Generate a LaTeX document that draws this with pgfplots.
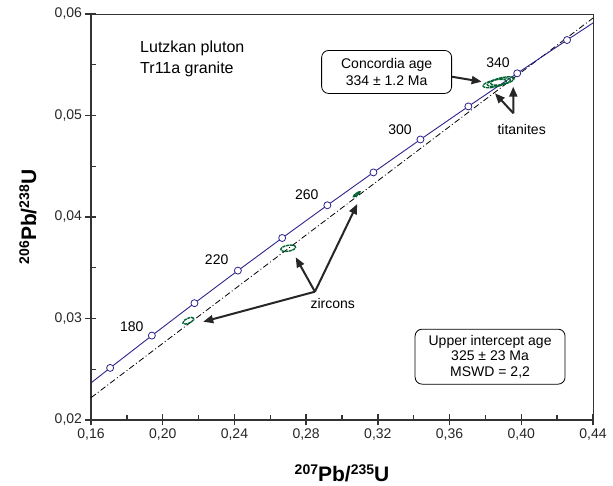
\documentclass[border=0pt]{standalone}
\usepackage{fontspec}
\setmainfont{Liberation Sans}
\usepackage{pgfplots}
\pgfplotsset{compat=1.18}
\usetikzlibrary{arrows.meta}

\definecolor{concblue}{RGB}{45,35,140}
\definecolor{ellgreen}{RGB}{0,100,48}

% error ellipses as plot marks (half axes in pt)
\pgfdeclareplotmark{ellza}{\pgfpathellipse{\pgfpointorigin}{\pgfpoint{5.4pt}{2.5pt}}{\pgfpoint{-1.0pt}{2.2pt}}\pgfusepathqstroke}
\pgfdeclareplotmark{ellzb}{\pgfpathellipse{\pgfpointorigin}{\pgfpoint{7.4pt}{1.3pt}}{\pgfpoint{-0.5pt}{2.9pt}}\pgfusepathqstroke}
\pgfdeclareplotmark{ellzc}{\pgfpathellipse{\pgfpointorigin}{\pgfpoint{3.2pt}{2.4pt}}{\pgfpoint{-0.6pt}{0.8pt}}\pgfusepathqstroke}
\pgfdeclareplotmark{ellt}{\pgfpathellipse{\pgfpointorigin}{\pgfpoint{11.7pt}{2.5pt}}{\pgfpoint{-0.7pt}{3.4pt}}\pgfusepathqstroke}

\begin{document}
\begin{tikzpicture}[font=\fontsize{14}{16}\selectfont,
  arr/.style={line width=2pt, black!85, -{Triangle[length=10pt,width=8pt]}}]
\useasboundingbox (-91pt,-66pt) rectangle (522pt,420pt);
\begin{axis}[
  at={(0,0)}, anchor=south west,
  scale only axis,
  width=502pt, height=406pt,
  xmin=0.16, xmax=0.44,
  ymin=0.02, ymax=0.06,
  axis x line*=bottom,
  axis y line*=left,
  axis line style={line width=1.5pt, black!80, -},
  xtick={0.16,0.20,0.24,0.28,0.32,0.36,0.40,0.44},
  ytick={0.02,0.03,0.04,0.05,0.06},
  minor x tick num=1,
  minor y tick num=1,
  tick align=center,
  major tick length=11pt,
  minor tick length=5pt,
  tick style={line width=1.3pt, black!80},
  minor x tick style={yshift=2.5pt},
  minor y tick style={xshift=2.5pt},
  scaled ticks=false,
  /pgf/number format/.cd, fixed, fixed zerofill, precision=2, use comma, assume math mode=true,
  /pgfplots/.cd,
  ticklabel style={font=\fontsize{14}{16}\selectfont, black!85},
  xlabel={\textbf{\fontsize{14}{16}\selectfont\raisebox{7pt}{207}}\textbf{\fontsize{21}{24}\selectfont Pb/}\textbf{\fontsize{14}{16}\selectfont\raisebox{7pt}{235}}\textbf{\fontsize{21}{24}\selectfont U}},
  ylabel={\textbf{\fontsize{14}{16}\selectfont\raisebox{7pt}{206}}\textbf{\fontsize{21}{24}\selectfont Pb/}\textbf{\fontsize{14}{16}\selectfont\raisebox{7pt}{238}}\textbf{\fontsize{21}{24}\selectfont U}},
  every axis x label/.style={at={(axis description cs:0.5,-0.1305)}, anchor=center},
  every axis y label/.style={at={(axis description cs:-0.1255,0.5)}, anchor=center, rotate=90},
]
% discordia
\addplot[black, line width=0.8pt, dash pattern=on 6pt off 2.5pt on 1pt off 2.5pt]
  coordinates {(0.16,0.0222) (0.44,0.0596)};
% concordia curve
\addplot[concblue, line width=0.9pt, mark=none] coordinates {
  (0.15920,0.023542) (0.17067,0.025131) (0.19395,0.028316) (0.21771,0.031511)
  (0.24193,0.034717) (0.26664,0.037932) (0.29183,0.041157) (0.31753,0.044392)
  (0.34374,0.047637) (0.37047,0.050893) (0.39773,0.054158) (0.42553,0.057434)
  (0.44248,0.059404)};
% age marks every 20 Ma
\addplot[only marks, mark=*, mark size=3.5pt, mark options={fill=white, draw=concblue, line width=0.8pt}] coordinates {
  (0.17067,0.025131) (0.19395,0.028316) (0.21771,0.031511) (0.24193,0.034717)
  (0.26664,0.037932) (0.29183,0.041157) (0.31753,0.044392) (0.34374,0.047637)
  (0.37047,0.050893) (0.39773,0.054158) (0.42553,0.057434)};
% zircons
\addplot[only marks, mark=ellza, mark options={ellgreen, line width=1.4pt, dash pattern=on 3pt off 0.7pt}] coordinates {(0.2143,0.02978)};
\addplot[only marks, mark=ellzb, mark options={ellgreen, line width=1.4pt, dash pattern=on 3pt off 0.7pt}] coordinates {(0.2700,0.03692)};
\addplot[only marks, mark=ellzc, mark options={ellgreen, line width=1.4pt}] coordinates {(0.3082,0.04224)};
% titanites
\addplot[only marks, mark=ellt, mark options={ellgreen, line width=1.3pt, dash pattern=on 3.5pt off 0.7pt}] coordinates {
  (0.3852,0.05315) (0.3875,0.05328) (0.3895,0.05340)};

\node[anchor=center] at (axis cs:0.1827,0.02919) {180};
\node[anchor=center] at (axis cs:0.2301,0.03576) {220};
\node[anchor=center] at (axis cs:0.2803,0.04217) {260};
\node[anchor=center] at (axis cs:0.3324,0.04857) {300};
\node[anchor=center] at (axis cs:0.3870,0.05517) {340};

\node[anchor=west, align=left, font=\fontsize{16}{21}\selectfont] at (axis cs:0.1855,0.05555) {Lutzkan pluton\\Tr11a granite};

\node[draw, rounded corners=7pt, line width=0.8pt, minimum width=130pt, minimum height=43pt, inner sep=0pt, align=center, font=\fontsize{14}{17}\selectfont, fill=white]
  at (axis cs:0.3249,0.05429) {Concordia age\\334 ± 1.2 Ma};
\draw[arr] (axis cs:0.3612,0.05382) -- (axis cs:0.3779,0.05333);

\node at (axis cs:0.4002,0.04864) {titanites};
\draw[arr] (axis cs:0.3956,0.05022) -- (axis cs:0.3955,0.05284);
\draw[arr] (axis cs:0.3956,0.05022) -- (axis cs:0.3853,0.05219);

\node at (axis cs:0.2948,0.03143) {zircons};
\draw[arr] (axis cs:0.2849,0.03264) -- (axis cs:0.3085,0.04128);
\draw[arr] (axis cs:0.2849,0.03264) -- (axis cs:0.2742,0.03603);
\draw[arr] (axis cs:0.2849,0.03264) -- (axis cs:0.2226,0.02968);

\node[draw, rounded corners=7pt, line width=0.8pt, minimum width=150pt, minimum height=55pt, inner sep=0pt, align=center, font=\fontsize{14}{15.5}\selectfont]
  at (axis cs:0.3826,0.02624) {Upper intercept age\\325 ± 23 Ma\\MSWD = 2,2};
\end{axis}
\draw[line width=0.8pt, black!80] (0,406pt) -- (502pt,406pt) -- (502pt,0);
\end{tikzpicture}
\end{document}
